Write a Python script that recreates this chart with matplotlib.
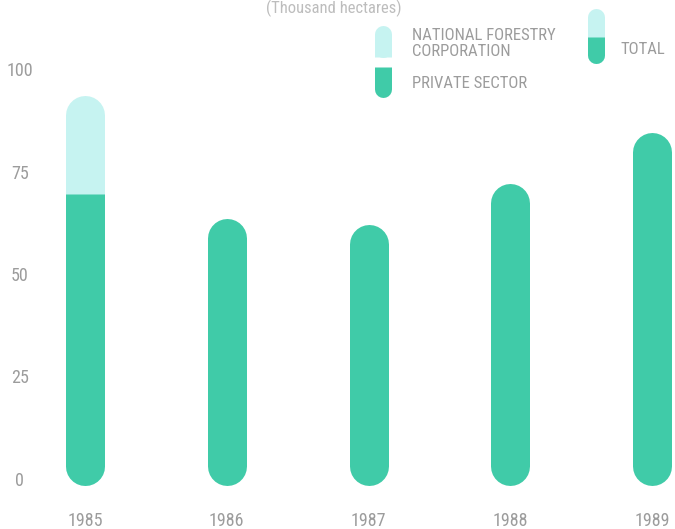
import matplotlib.pyplot as plt
from matplotlib import font_manager

years = ['1985', '1986', '1987', '1988', '1989']
private_sector = [70, 64, 62.5, 72.5, 85]
national_forestry = [24, 0, 0, 0, 0]
yticks = [0, 25, 50, 75, 100]

green = '#40cba8'
cyan = '#c6f3f1'
grey = '#9c9c9c'

names = {f.name for f in font_manager.fontManager.ttflist}
font = 'DejaVu Sans'
for cand in ['Roboto Condensed', 'Archivo Narrow', 'Barlow Semi Condensed', 'Asap Condensed']:
    if cand in names:
        font = cand
        break
plt.rcParams['font.family'] = [font, 'DejaVu Sans']

fig = plt.figure(figsize=(6.75, 5.29), dpi=100)
ax = fig.add_axes([0, 0, 1, 1])
ax.set_xlim(-0.5997, 4.162)
ax.set_ylim(-11.71, 117.32)
ax.axis('off')

px = 4.1                     # pixels per data unit
lw = 39 * 72 / 100           # bar width in points
cap = 19.5 / px              # round cap height in data units
base = -1.2

for i, yr in enumerate(years):
    p = private_sector[i]
    n = national_forestry[i]
    total = p + n
    if n > 0:
        ax.plot([i, i], [base + cap, total - cap], color=cyan, lw=lw, solid_capstyle='round')
        ax.plot([i, i], [base + cap, p - cap], color=green, lw=lw, solid_capstyle='round')
        ax.plot([i, i], [base + cap, p], color=green, lw=lw, solid_capstyle='butt')
    else:
        ax.plot([i, i], [base + cap, total - cap], color=green, lw=lw, solid_capstyle='round')
    ax.text(i, -40 / px, yr, ha='center', va='center', color=grey, fontsize=13)

for t in yticks:
    ax.text(-0.46, t, str(t), ha='center', va='center', color=grey, fontsize=13)

# overlay in pixel coordinates for title and legend
ov = fig.add_axes([0, 0, 1, 1])
ov.set_xlim(0, 675)
ov.set_ylim(529, 0)
ov.axis('off')
ov.patch.set_alpha(0)

ov.text(334, 8, '(Thousand hectares)', ha='center', va='center', color='#bdbdbd', fontsize=12)

lw2 = 17 * 72 / 100
r = 8.5
# national forestry key: rounded top, flat bottom
ov.plot([383, 383], [25 + r, 57 - r], color=cyan, lw=lw2, solid_capstyle='round')
ov.plot([383, 383], [40, 57], color=cyan, lw=lw2, solid_capstyle='butt')
# private sector key: flat top, rounded bottom
ov.plot([383, 383], [67 + r, 97 - r], color=green, lw=lw2, solid_capstyle='round')
ov.plot([383, 383], [67, 82], color=green, lw=lw2, solid_capstyle='butt')
# total key
ov.plot([596, 596], [8 + r, 63 - r], color=cyan, lw=lw2, solid_capstyle='round')
ov.plot([596, 596], [37 + r, 63 - r], color=green, lw=lw2, solid_capstyle='round')
ov.plot([596, 596], [37, 50], color=green, lw=lw2, solid_capstyle='butt')

ov.text(412, 43.5, 'NATIONAL FORESTRY\nCORPORATION', ha='left', va='center',
        color=grey, fontsize=12, linespacing=1.0)
ov.text(412, 83.5, 'PRIVATE SECTOR', ha='left', va='center', color=grey, fontsize=12)
ov.text(620, 49, 'TOTAL', ha='left', va='center', color=grey, fontsize=12)

fig.savefig('out.png', dpi=100)
